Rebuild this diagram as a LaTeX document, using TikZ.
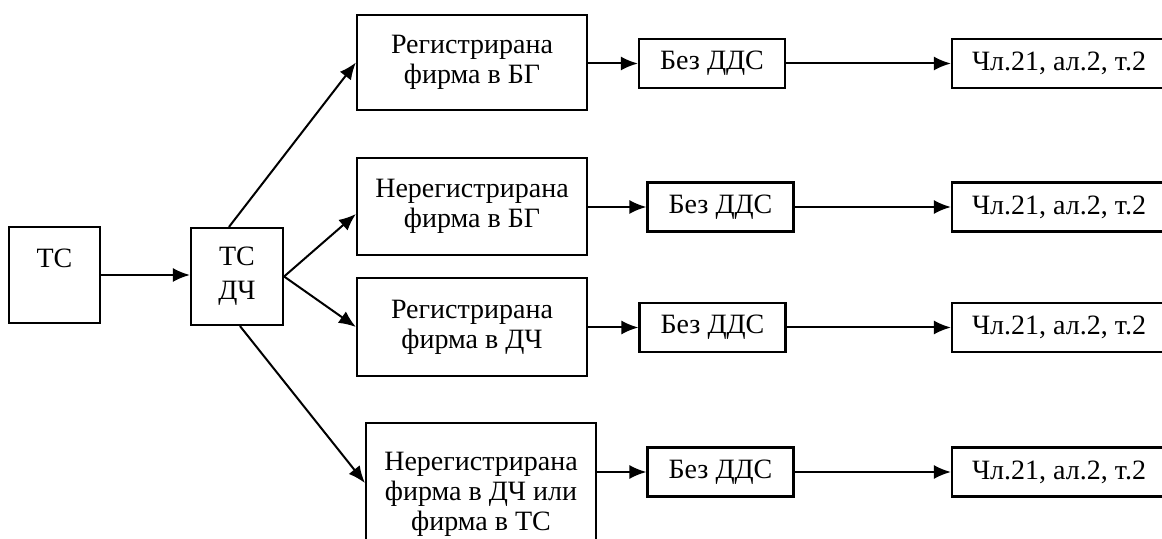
\documentclass[tikz,border=0pt]{standalone}
\usepackage{fontspec}
\setmainfont{Liberation Serif}
\usetikzlibrary{arrows.meta}

\begin{document}
\begin{tikzpicture}[x=0.5pt,y=-0.5pt,line width=1pt,
	font=\fontsize{14}{15}\selectfont,
	boxnode/.style={draw,line width=1.1pt,align=center,inner sep=0pt},
	conn/.style={-{Latex[length=8.5pt,width=7pt]}}]
	\useasboundingbox (0,0) rectangle (1162,539);
	\clip (0,0) rectangle (1162,539);
	%LEFT BOXES
	\node[boxnode,minimum width=45.5pt,minimum height=48pt] (tc) at (54.5,275) {ТС\\[2pt]\mbox{}};
	\node[boxnode,minimum width=46pt,minimum height=48.5pt] (tcdch) at (237,276.5) {ТС\\[2pt]ДЧ};
	
	%FIRMS
	\node[boxnode,minimum width=115pt,minimum height=47.5pt] (r1) at (472,62.5) {Регистрирана\\фирма в БГ};
	\node[boxnode,minimum width=115pt,minimum height=48.5pt] (r2) at (472,206.5) {Нерегистрирана\\фирма в БГ};
	\node[boxnode,minimum width=115pt,minimum height=49pt] (r3) at (472,327) {Регистрирана\\фирма в ДЧ};
	\node[boxnode,minimum width=115pt,minimum height=71pt] (r4) at (481,494) {Нерегистрирана\\фирма в ДЧ или\\фирма в ТС};
	
	%VAT
	\node[boxnode,minimum width=73pt,minimum height=24.5pt] (d1) at (712,63.5) {Без ДДС};
	\node[boxnode,minimum width=73pt,minimum height=24.5pt] (d2) at (720.5,207) {Без ДДС};
	\node[boxnode,minimum width=73pt,minimum height=24.5pt] (d3) at (712.5,327.5) {Без ДДС};
	\node[boxnode,minimum width=73pt,minimum height=24.5pt] (d4) at (720.5,472) {Без ДДС};
	
	%ARTICLES
	\node[boxnode,minimum width=107pt,minimum height=24.5pt] (c1) at (1059,63.5) {Чл.21, ал.2, т.2};
	\node[boxnode,minimum width=107pt,minimum height=24.5pt] (c2) at (1059,207) {Чл.21, ал.2, т.2};
	\node[boxnode,minimum width=107pt,minimum height=24.5pt] (c3) at (1059,327.5) {Чл.21, ал.2, т.2};
	\node[boxnode,minimum width=107pt,minimum height=24.5pt] (c4) at (1059,472) {Чл.21, ал.2, т.2};
	
	%ARROWS
	\draw[conn] (tc.east) -- (tc.east -| tcdch.west);
	\draw[conn] ([xshift=-4pt]tcdch.north) -- (r1.west);
	\draw[conn] (tcdch.east) -- ([yshift=-3.75pt]r2.west);
	\draw[conn] (tcdch.east) -- (r3.west);
	\draw[conn] ([xshift=1.5pt]tcdch.south) -- ([yshift=5.5pt]r4.west);
	%
	\draw[conn] (r1.east |- d1.west) -- (d1.west);
	\draw[conn] (r2.east |- d2.west) -- (d2.west);
	\draw[conn] (r3.east |- d3.west) -- (d3.west);
	\draw[conn] (r4.east |- d4.west) -- (d4.west);
	%
	\draw[conn] (d1.east) -- (c1.west);
	\draw[conn] (d2.east) -- (c2.west);
	\draw[conn] (d3.east) -- (c3.west);
	\draw[conn] (d4.east) -- (c4.west);
\end{tikzpicture}
\end{document}
